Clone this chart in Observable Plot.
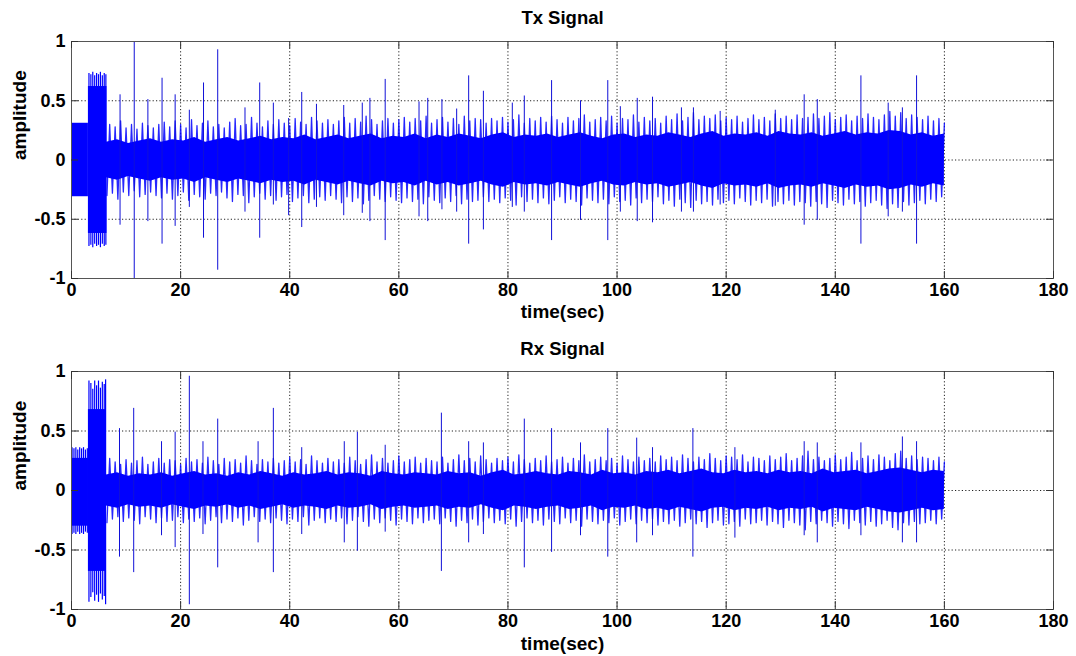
<!DOCTYPE html>
<html><head><meta charset="utf-8">
<script src="https://cdn.jsdelivr.net/npm/d3@7"></script>
<script src="https://cdn.jsdelivr.net/npm/@observablehq/plot@0.6"></script>
<style>
body{margin:0;background:#fff;font-family:"Liberation Sans",Arial,sans-serif}
#wrap{position:relative;width:1076px;height:656px;overflow:hidden}
#wrap svg{display:block}
</style></head><body><div id="wrap"></div>
<script>
// ---- axis ticks ----
const xTicks = [0,20,40,60,80,100,120,140,160,180];
const yTicks = [-1,-0.5,0,0.5,1];

// ---- Tx: opening blocks ----
const txBlockStart = [0, 3.1];
const txBlockEnd   = [3.1, 6.5];
const txBlockHi    = [0.31, 0.62];
const txBlockLo    = [-0.31, -0.62];
const txTipT   = [3.2,3.55,3.9,4.25,4.6,4.95,5.3,5.65,6.0,6.3];
const txTipAmp = [0.73,0.72,0.74,0.71,0.73,0.72,0.74,0.71,0.73,0.72];

// ---- dense core envelope (77 samples spread evenly from 6.4 s to 160 s) ----
const coreStart = 6.4, coreEnd = 160;
const txCore = [
0.15,0.17,0.14,0.16,0.18,0.15,0.17,0.16,0.19,0.15,
0.17,0.19,0.16,0.18,0.20,0.17,0.19,0.18,0.21,0.17,
0.19,0.21,0.18,0.20,0.22,0.18,0.20,0.19,0.22,0.18,
0.21,0.19,0.22,0.20,0.18,0.21,0.23,0.19,0.21,0.20,
0.22,0.19,0.21,0.23,0.20,0.18,0.21,0.22,0.19,0.21,
0.20,0.23,0.21,0.19,0.22,0.24,0.20,0.22,0.21,0.23,
0.20,0.24,0.22,0.21,0.23,0.20,0.22,0.24,0.21,0.23,
0.22,0.25,0.24,0.21,0.23,0.20,0.22];

// ---- fringe peaks (1 s steps from 7 s to 160 s) ----
const fringeStart = 7;
const txFringe = [
0.30,0.28,0.33,0.27,0.30,0.26,0.31,0.29,0.27,0.30,
0.32,0.28,0.33,0.30,0.27,0.34,0.29,0.31,0.33,0.28,
0.30,0.27,0.32,0.35,0.29,0.30,0.36,0.31,0.28,0.33,
0.30,0.34,0.31,0.29,0.35,0.32,0.30,0.36,0.33,0.31,
0.34,0.30,0.33,0.36,0.31,0.35,0.32,0.37,0.34,0.30,
0.33,0.35,0.31,0.34,0.36,0.32,0.35,0.33,0.37,0.31,
0.34,0.36,0.32,0.35,0.30,0.37,0.33,0.35,0.34,0.31,
0.35,0.33,0.36,0.32,0.34,0.38,0.31,0.35,0.33,0.36,
0.32,0.37,0.34,0.31,0.36,0.33,0.35,0.38,0.32,0.34,
0.36,0.33,0.37,0.31,0.35,0.34,0.38,0.32,0.36,0.33,
0.35,0.31,0.37,0.34,0.39,0.33,0.36,0.40,0.34,0.37,
0.35,0.38,0.33,0.36,0.34,0.37,0.32,0.35,0.38,0.34,
0.36,0.33,0.39,0.35,0.37,0.34,0.38,0.35,0.36,0.39,
0.35,0.37,0.40,0.34,0.36,0.38,0.33,0.37,0.35,0.39,
0.36,0.34,0.38,0.41,0.37,0.40,0.35,0.38,0.36,0.34,
0.37,0.33,0.35,0.31];

// ---- Tx: large spikes ----
const txSpikeT  = [8.9,11.5,14.0,16.6,19.0,21.6,24.2,26.8,31.8,34.5,37.0,39.8,42.2,44.9,49.9,53.3,54.7,57.5,63.7,65.3,67.9,70.6,72.8,75.5,80.8,83.0,88.0,93.3,98.3,100.6,103.7,106.5,111.8,114.0,118.9,129.0,134.3,136.7,144.7,149.7,152.3,154.9];
const txSpikeHi = [0.55,1.0,0.51,0.69,0.55,0.42,0.65,0.93,0.44,0.65,0.48,0.35,0.57,0.47,0.46,0.48,0.52,0.68,0.49,0.52,0.51,0.43,0.71,0.58,0.48,0.54,0.67,0.50,0.67,0.45,0.52,0.53,0.44,0.44,0.41,0.42,0.55,0.51,0.71,0.48,0.44,0.71];
const txSpikeLo = [-0.55,-1.0,-0.52,-0.71,-0.56,-0.40,-0.66,-0.93,-0.44,-0.66,-0.38,-0.47,-0.57,-0.40,-0.47,-0.45,-0.52,-0.68,-0.48,-0.52,-0.42,-0.44,-0.71,-0.59,-0.40,-0.44,-0.68,-0.51,-0.68,-0.44,-0.52,-0.53,-0.44,-0.44,-0.38,-0.39,-0.55,-0.51,-0.71,-0.48,-0.44,-0.71];

// ---- Rx: opening blocks ----
const rxBlockStart = [0, 3.1];
const rxBlockEnd   = [3.1, 6.4];
const rxBlockHi    = [0.27, 0.68];
const rxBlockLo    = [-0.30, -0.68];
const rxTipT     = [0.1,0.45,0.8,1.15,1.5,1.85,2.2,2.55,2.9, 3.2,3.55,3.9,4.25,4.6,4.95,5.3,5.65,6.0,6.25];
const rxTipHi    = [0.36,0.35,0.36,0.34,0.36,0.35,0.36,0.34,0.35, 0.92,0.90,0.85,0.92,0.88,0.92,0.86,0.91,0.89,0.93];
const rxTipLo    = [-0.37,-0.36,-0.37,-0.35,-0.37,-0.36,-0.37,-0.35,-0.36, -0.94,-0.90,-0.86,-0.93,-0.88,-0.94,-0.87,-0.92,-0.89,-0.96];

// ---- Rx: dense core envelope ----
const rxCore = [
0.13,0.15,0.12,0.14,0.13,0.15,0.12,0.14,0.16,0.13,
0.14,0.12,0.15,0.13,0.16,0.14,0.12,0.15,0.13,0.14,
0.16,0.13,0.15,0.14,0.12,0.16,0.14,0.13,0.15,0.14,
0.13,0.16,0.14,0.15,0.12,0.15,0.17,0.13,0.14,0.16,
0.14,0.13,0.16,0.15,0.13,0.17,0.14,0.15,0.13,0.16,
0.15,0.17,0.14,0.16,0.18,0.15,0.14,0.17,0.15,0.16,
0.14,0.17,0.15,0.16,0.14,0.18,0.15,0.16,0.17,0.14,
0.16,0.18,0.19,0.17,0.15,0.17,0.16];

const rxFringe = [
0.27,0.24,0.22,0.26,0.23,0.25,0.28,0.22,0.24,0.27,
0.23,0.26,0.25,0.22,0.27,0.24,0.26,0.23,0.28,0.25,
0.22,0.27,0.24,0.26,0.23,0.29,0.25,0.22,0.26,0.24,
0.27,0.23,0.25,0.28,0.24,0.26,0.22,0.29,0.25,0.23,
0.27,0.24,0.26,0.23,0.28,0.25,0.22,0.26,0.30,0.24,
0.27,0.23,0.25,0.29,0.24,0.26,0.28,0.23,0.27,0.25,
0.24,0.28,0.23,0.26,0.30,0.25,0.27,0.24,0.29,0.26,
0.23,0.27,0.25,0.28,0.24,0.30,0.26,0.23,0.27,0.25,
0.29,0.24,0.26,0.28,0.23,0.27,0.25,0.30,0.24,0.26,
0.28,0.25,0.27,0.23,0.29,0.26,0.24,0.28,0.25,0.27,
0.24,0.29,0.26,0.28,0.25,0.30,0.27,0.24,0.28,0.26,
0.31,0.27,0.25,0.29,0.28,0.26,0.30,0.24,0.28,0.27,
0.25,0.29,0.26,0.28,0.31,0.25,0.27,0.29,0.33,0.26,
0.28,0.25,0.27,0.30,0.26,0.28,0.32,0.25,0.27,0.29,
0.26,0.30,0.28,0.25,0.31,0.33,0.27,0.29,0.26,0.28,
0.27,0.25,0.28,0.24];

const rxSpikeT  = [8.8,11.4,16.5,19.0,21.6,24.1,26.8,34.2,37.0,42.2,50.0,52.4,57.5,67.8,72.8,75.5,83.0,88.0,93.3,98.3,103.6,106.5,113.9,121.6,134.3,136.7,144.7,152.3,154.9];
const rxSpikeHi = [0.52,0.69,0.41,0.49,0.96,0.41,0.60,0.41,0.69,0.36,0.41,0.49,0.38,0.65,0.41,0.40,0.60,0.52,0.40,0.52,0.44,0.36,0.52,0.36,0.41,0.40,0.40,0.45,0.41];
const rxSpikeLo = [-0.56,-0.69,-0.38,-0.48,-0.96,-0.37,-0.65,-0.44,-0.69,-0.37,-0.44,-0.51,-0.35,-0.68,-0.44,-0.37,-0.65,-0.52,-0.38,-0.56,-0.44,-0.38,-0.56,-0.40,-0.38,-0.44,-0.38,-0.44,-0.44];

// ---- build tables ----
const blocks = (s,e,h,l) => s.map((v,i)=>({t0:v,t1:e[i],hi:h[i],lo:l[i]}));
const rows3 = (t,h,l) => t.map((v,i)=>({t:v,hi:h[i],lo:l[i]}));
const coreRows = c => c.map((a,i)=>({t:coreStart+(coreEnd-coreStart)*i/(c.length-1),hi:a,lo:-a}));
// waveform trace: each fringe peak, with its mirror half a second earlier
const waveRows = f => f.flatMap((a,i)=>[{t:fringeStart+i-0.5, v:-a},{t:fringeStart+i, v:a}]);

const BLUE = "#0000ff";
const FONT = "'Liberation Sans', Arial, sans-serif";
const FRAME_W = 1076-71-23, FRAME_H = 237;

function panel(o){
  return Plot.plot({
    width:1076, height:o.height,
    marginLeft:71, marginRight:23, marginTop:o.mt, marginBottom:o.mb,
    x:{domain:[0,180]}, y:{domain:[-1,1]},
    style:{fontFamily:FONT, fontSize:"18px", fontWeight:"bold", color:"#000", background:"#fff", overflow:"visible"},
    marks:[
      Plot.gridX(xTicks.slice(1,-1), {stroke:"#222", strokeOpacity:1, strokeDasharray:"1.2,2.2"}),
      Plot.gridY([-0.5,0,0.5], {stroke:"#222", strokeOpacity:1, strokeDasharray:"1.2,2.2"}),
      Plot.rect(o.blocks, {x1:"t0", x2:"t1", y1:"lo", y2:"hi", fill:BLUE}),
      Plot.ruleX(o.tips, {x:"t", y1:"lo", y2:"hi", stroke:BLUE, strokeWidth:1.2}),
      Plot.line(o.wave, {x:"t", y:"v", stroke:BLUE, strokeWidth:1.3, strokeOpacity:0.85}),
      Plot.areaY(o.core, {x:"t", y1:"lo", y2:"hi", fill:BLUE}),
      Plot.ruleX(o.spikes, {x:"t", y1:"lo", y2:"hi", stroke:"#1010d8", strokeWidth:1}),
      Plot.frame({stroke:"#555"}),
      Plot.tickX(xTicks, {x:d=>d, insetTop:FRAME_H-7, stroke:"#333"}),
      Plot.tickX(xTicks, {x:d=>d, insetBottom:FRAME_H-7, stroke:"#333"}),
      Plot.tickY(yTicks, {y:d=>d, insetLeft:FRAME_W-7, stroke:"#333"}),
      Plot.tickY(yTicks, {y:d=>d, insetRight:FRAME_W-7, stroke:"#333"}),
      Plot.axisX(xTicks, {tickSize:0, tickPadding:5, label:null, tickFormat:d=>String(d), fontSize:18}),
      Plot.axisY(yTicks, {tickSize:0, tickPadding:6, label:null, tickFormat:d=>String(d), fontSize:18}),
      Plot.text([o.title], {frameAnchor:"top", dy:o.titleDy, lineAnchor:"middle", fontSize:18.5, fontWeight:"bold"}),
      Plot.text(["time(sec)"], {frameAnchor:"bottom", dy:o.xlabDy, lineAnchor:"middle", fontSize:19, fontWeight:"bold"}),
      Plot.text(["amplitude"], {frameAnchor:"left", dx:-52, rotate:-90, lineAnchor:"middle", fontSize:19, fontWeight:"bold"})
    ]
  });
}

const wrap = document.getElementById("wrap");
wrap.appendChild(panel({
  height:330, mt:41, mb:52, title:"Tx Signal", titleDy:-23, xlabDy:33,
  blocks:blocks(txBlockStart,txBlockEnd,txBlockHi,txBlockLo),
  tips:txTipT.map((t,i)=>({t,hi:txTipAmp[i],lo:-txTipAmp[i]})),
  core:coreRows(txCore), wave:waveRows(txFringe),
  spikes:rows3(txSpikeT,txSpikeHi,txSpikeLo)
}));
wrap.appendChild(panel({
  height:326, mt:41, mb:47, title:"Rx Signal", titleDy:-22, xlabDy:34,
  blocks:blocks(rxBlockStart,rxBlockEnd,rxBlockHi,rxBlockLo),
  tips:rows3(rxTipT,rxTipHi,rxTipLo),
  core:coreRows(rxCore), wave:waveRows(rxFringe),
  spikes:rows3(rxSpikeT,rxSpikeHi,rxSpikeLo)
}));
</script></body></html>
